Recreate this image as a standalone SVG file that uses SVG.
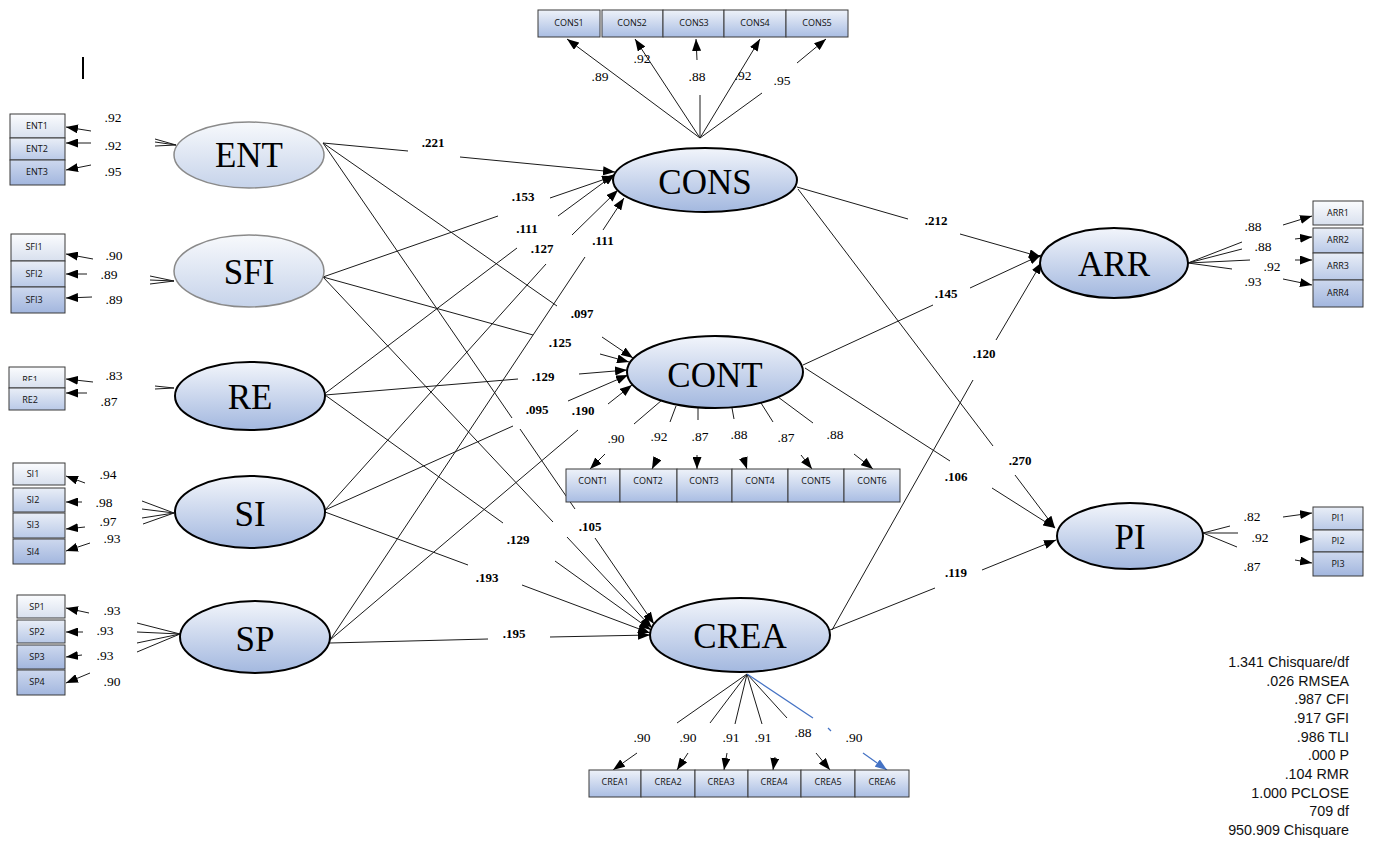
<svg xmlns="http://www.w3.org/2000/svg" width="1375" height="841" viewBox="0 0 1375 841">
<defs>
  <linearGradient id="gLat" x1="0" y1="0" x2="0" y2="1">
    <stop offset="0" stop-color="#f2f5fb"/><stop offset="1" stop-color="#a3b8df"/>
  </linearGradient>
  <linearGradient id="gLatLt" x1="0" y1="0" x2="0" y2="1">
    <stop offset="0" stop-color="#f7f9fc"/><stop offset="1" stop-color="#c6d3ea"/>
  </linearGradient>
  <linearGradient id="gBoxLt" x1="0" y1="0" x2="0" y2="1">
    <stop offset="0" stop-color="#fbfcfe"/><stop offset="1" stop-color="#d8e0ee"/>
  </linearGradient>
  <linearGradient id="gBoxMd" x1="0" y1="0" x2="0" y2="1">
    <stop offset="0" stop-color="#e9eef7"/><stop offset="1" stop-color="#b9c9e7"/>
  </linearGradient>
  <linearGradient id="gBoxDk" x1="0" y1="0" x2="0" y2="1">
    <stop offset="0" stop-color="#cdd8ee"/><stop offset="1" stop-color="#a2b6de"/>
  </linearGradient>
  <linearGradient id="gBox" x1="0" y1="0" x2="0" y2="1">
    <stop offset="0" stop-color="#eef2f9"/><stop offset="1" stop-color="#a9bde3"/>
  </linearGradient>
  <marker id="ah" viewBox="0 0 12 9" refX="12" refY="4.5" markerWidth="12" markerHeight="9" markerUnits="userSpaceOnUse" orient="auto">
    <path d="M0,0 L12,4.5 L0,9 z" fill="#000"/>
  </marker>
  <marker id="ahBlue" viewBox="0 0 12 9" refX="12" refY="4.5" markerWidth="12" markerHeight="9" markerUnits="userSpaceOnUse" orient="auto">
    <path d="M0,0 L12,4.5 L0,9 z" fill="#4472c4"/>
  </marker>
  <clipPath id="clipRE1"><rect x="9" y="367" width="56" height="14"/></clipPath>
  <style>
    .ln{stroke:#1a1a1a;stroke-width:1;fill:none}
    .ar{marker-end:url(#ah)}
    .blue{stroke:#4472c4;stroke-width:1.2;fill:none}
    .lat{fill:url(#gLat);stroke:#000;stroke-width:2}
    .latLt{fill:url(#gLatLt);stroke:#8a8a8a;stroke-width:1.5}
    .lv{font-family:"Liberation Serif",serif;font-size:35px;text-anchor:middle;fill:#000}
    .bx{stroke:#3a3a3a;stroke-width:1}
    .bt{font-family:"Open Sans","Liberation Sans",sans-serif;font-size:9px;text-anchor:middle;fill:#111}
    .pl{font-family:"Liberation Serif",serif;font-size:13px;font-weight:bold;text-anchor:middle;fill:#000}
    .ld{font-family:"Liberation Serif",serif;font-size:13.5px;text-anchor:middle;fill:#000}
    .fit{font-family:"Liberation Sans",sans-serif;font-size:14.3px;text-anchor:end;fill:#111}
  </style>
</defs>
<rect width="1375" height="841" fill="#fff"/>

<!-- stray cursor mark -->
<line x1="83" y1="57" x2="83" y2="79" stroke="#000" stroke-width="2"/>

<g id="connectors">
  <!-- structural paths into CONS -->
  <line class="ln" x1="323" y1="143" x2="408" y2="151"/>
  <line class="ln ar" x1="460" y1="157" x2="615" y2="172"/>
  <line class="ln" x1="323" y1="277" x2="498" y2="216"/>
  <line class="ln ar" x1="550" y1="198" x2="614" y2="176"/>
  <line class="ln" x1="323" y1="395" x2="517" y2="248"/>
  <line class="ln ar" x1="558" y1="216" x2="615" y2="174"/>
  <line class="ln" x1="325" y1="510" x2="546" y2="264"/>
  <line class="ln ar" x1="572" y1="235" x2="618" y2="190"/>
  <line class="ln" x1="330" y1="640" x2="585" y2="257"/>
  <line class="ln ar" x1="603" y1="230" x2="624" y2="198"/>
  <!-- structural paths into CONT -->
  <line class="ln" x1="323" y1="143" x2="557" y2="306"/>
  <line class="ln ar" x1="602" y1="337" x2="633" y2="358"/>
  <line class="ln" x1="323" y1="277" x2="533" y2="335"/>
  <line class="ln ar" x1="600" y1="354" x2="629" y2="362"/>
  <line class="ln" x1="325" y1="395" x2="518" y2="379"/>
  <line class="ln ar" x1="579" y1="374" x2="627" y2="370"/>
  <line class="ln" x1="325" y1="510" x2="513" y2="426"/>
  <line class="ln ar" x1="568" y1="401" x2="628" y2="375"/>
  <line class="ln" x1="330" y1="640" x2="578" y2="430"/>
  <line class="ln ar" x1="608" y1="404" x2="632" y2="385"/>
  <!-- structural paths into CREA -->
  <line class="ln" x1="323" y1="143" x2="512" y2="418"/>
  <line class="ln" x1="520" y1="429" x2="575" y2="509"/>
  <line class="ln ar" x1="595" y1="538" x2="654" y2="624"/>
  <line class="ln" x1="323" y1="277" x2="553" y2="522"/>
  <line class="ln ar" x1="567" y1="537" x2="652" y2="628"/>
  <line class="ln" x1="325" y1="395" x2="503" y2="523"/>
  <line class="ln ar" x1="555" y1="561" x2="651" y2="630"/>
  <line class="ln" x1="325" y1="512" x2="468" y2="565"/>
  <line class="ln ar" x1="522" y1="585" x2="650" y2="633"/>
  <line class="ln" x1="330" y1="643" x2="488" y2="639"/>
  <line class="ln ar" x1="550" y1="637" x2="650" y2="635"/>
  <!-- outcome paths -->
  <line class="ln" x1="797" y1="187" x2="908" y2="219"/>
  <line class="ln ar" x1="960" y1="234" x2="1041" y2="257"/>
  <line class="ln" x1="803" y1="365" x2="933" y2="305"/>
  <line class="ln ar" x1="970" y1="288" x2="1041" y2="255"/>
  <line class="ln" x1="832" y1="630" x2="973" y2="380"/>
  <line class="ln ar" x1="996" y1="340" x2="1042" y2="262"/>
  <line class="ln" x1="798" y1="189" x2="993" y2="446"/>
  <line class="ln ar" x1="1015" y1="475" x2="1055" y2="528"/>
  <line class="ln" x1="805" y1="368" x2="950" y2="461"/>
  <line class="ln ar" x1="992" y1="488" x2="1055" y2="528"/>
  <line class="ln" x1="830" y1="630" x2="935" y2="588"/>
  <line class="ln ar" x1="982" y1="570" x2="1056" y2="540"/>

  <!-- left indicator stubs at the latent edges -->
  <path class="ln" d="M176,145 L155,139 M176,145 L155,142 M176,145 L155,146"/>
  <path class="ln" d="M174,281 L150,276 M174,281 L150,280 M174,281 L150,284"/>
  <path class="ln" d="M174,388 L155,386 M174,388 L155,389"/>
  <path class="ln" d="M174,513 L142,501 M174,513 L142,509 M174,513 L142,518 M174,513 L143,524"/>
  <path class="ln" d="M180,634 L137,623 M180,634 L137,632 M180,634 L137,643 M180,634 L137,652"/>
  <!-- left indicator arrows -->
  <line class="ln ar" x1="91" y1="131" x2="66" y2="127"/>
  <line class="ln ar" x1="91" y1="143" x2="66" y2="143"/>
  <line class="ln ar" x1="91" y1="165" x2="66" y2="170"/>
  <line class="ln ar" x1="93" y1="259" x2="66" y2="254"/>
  <line class="ln ar" x1="87" y1="274" x2="66" y2="274"/>
  <line class="ln ar" x1="92" y1="297" x2="66" y2="298"/>
  <line class="ln ar" x1="93" y1="382" x2="66" y2="379"/>
  <line class="ln ar" x1="87" y1="393" x2="66" y2="393"/>
  <line class="ln ar" x1="85" y1="483" x2="66" y2="476"/>
  <line class="ln ar" x1="82" y1="502" x2="66" y2="502"/>
  <line class="ln ar" x1="85" y1="527" x2="66" y2="529"/>
  <line class="ln ar" x1="90" y1="543" x2="66" y2="551"/>
  <line class="ln ar" x1="89" y1="613" x2="66" y2="608"/>
  <line class="ln ar" x1="83" y1="632" x2="66" y2="632"/>
  <line class="ln ar" x1="82" y1="655" x2="66" y2="657"/>
  <line class="ln ar" x1="90" y1="673" x2="66" y2="683"/>

  <!-- CONS indicators -->
  <line class="ln ar" x1="700" y1="138" x2="567" y2="39"/>
  <line class="ln ar" x1="700" y1="138" x2="635" y2="39"/>
  <line class="ln" x1="700" y1="138" x2="700" y2="95"/>
  <line class="ln ar" x1="697" y1="60" x2="696" y2="39"/>
  <line class="ln ar" x1="700" y1="138" x2="760" y2="39"/>
  <line class="ln" x1="700" y1="138" x2="762" y2="93"/>
  <line class="ln ar" x1="797" y1="63" x2="826" y2="39"/>

  <!-- CONT indicators -->
  <line class="ln" x1="662" y1="400" x2="634" y2="424"/>
  <line class="ln ar" x1="605" y1="454" x2="590" y2="469"/>
  <line class="ln" x1="676" y1="406" x2="670" y2="422"/>
  <line class="ln ar" x1="657" y1="459" x2="652" y2="469"/>
  <line class="ln" x1="698" y1="408" x2="698" y2="420"/>
  <line class="ln ar" x1="697" y1="455" x2="697" y2="469"/>
  <line class="ln" x1="732" y1="408" x2="734" y2="419"/>
  <line class="ln ar" x1="743" y1="457" x2="747" y2="469"/>
  <line class="ln" x1="761" y1="403" x2="773" y2="422"/>
  <line class="ln ar" x1="801" y1="455" x2="812" y2="469"/>
  <line class="ln" x1="778" y1="397" x2="813" y2="423"/>
  <line class="ln ar" x1="854" y1="454" x2="873" y2="469"/>

  <!-- CREA indicators -->
  <line class="ln" x1="747" y1="674" x2="677" y2="723"/>
  <line class="ln ar" x1="637" y1="753" x2="613" y2="770"/>
  <line class="ln" x1="747" y1="674" x2="710" y2="723"/>
  <line class="ln ar" x1="688" y1="753" x2="677" y2="770"/>
  <line class="ln" x1="747" y1="674" x2="735" y2="724"/>
  <line class="ln ar" x1="727" y1="753" x2="724" y2="770"/>
  <line class="ln" x1="747" y1="674" x2="762" y2="724"/>
  <line class="ln ar" x1="775" y1="757" x2="773" y2="770"/>
  <line class="ln" x1="747" y1="674" x2="787" y2="718"/>
  <line class="ln ar" x1="816" y1="753" x2="830" y2="770"/>
  <line class="blue" x1="747" y1="674" x2="813" y2="718"/>
  <line class="blue" x1="828" y1="728" x2="831" y2="731"/>
  <line class="blue" x1="863" y1="753" x2="887" y2="770" marker-end="url(#ahBlue)"/>

  <!-- ARR indicators -->
  <path class="ln" d="M1188,263 L1242,242 M1188,263 L1242,249 M1188,263 L1250,260 M1188,263 L1232,269"/>
  <line class="ln ar" x1="1283" y1="225" x2="1312" y2="216"/>
  <line class="ln ar" x1="1295" y1="239" x2="1312" y2="237"/>
  <line class="ln ar" x1="1295" y1="260" x2="1312" y2="260"/>
  <line class="ln ar" x1="1283" y1="279" x2="1312" y2="285"/>

  <!-- PI indicators -->
  <path class="ln" d="M1203,533 L1230,526 M1203,533 L1238,533 M1203,533 L1237,547"/>
  <line class="ln ar" x1="1283" y1="517" x2="1312" y2="513"/>
  <line class="ln ar" x1="1300" y1="539" x2="1312" y2="539"/>
  <line class="ln ar" x1="1295" y1="560" x2="1312" y2="563"/>
</g>

<!-- exogenous latents -->
<g id="ENT"><ellipse class="latLt" cx="249" cy="155" rx="75" ry="33"/><text class="lv" x="249" y="167">ENT</text></g>
<g id="SFI"><ellipse class="latLt" cx="249" cy="271" rx="75" ry="36"/><text class="lv" x="249" y="284">SFI</text></g>
<g id="RE"><ellipse class="lat" cx="250" cy="396" rx="75" ry="34"/><text class="lv" x="250" y="409">RE</text></g>
<g id="SI"><ellipse class="lat" cx="250" cy="512" rx="75" ry="36"/><text class="lv" x="250" y="526">SI</text></g>
<g id="SP"><ellipse class="lat" cx="255" cy="637" rx="75" ry="36"/><text class="lv" x="255" y="651">SP</text></g>

<!-- mediators and outcomes -->
<g id="CONS"><ellipse class="lat" cx="705" cy="180" rx="92" ry="32"/><text class="lv" x="705" y="194">CONS</text></g>
<g id="CONT"><ellipse class="lat" cx="715" cy="372" rx="88" ry="36"/><text class="lv" x="715" y="387">CONT</text></g>
<g id="CREA"><ellipse class="lat" cx="740" cy="635" rx="90" ry="37"/><text class="lv" x="740" y="648">CREA</text></g>
<g id="ARR"><ellipse class="lat" cx="1114" cy="263" rx="74" ry="35"/><text class="lv" x="1114" y="276">ARR</text></g>
<g id="PI"><ellipse class="lat" cx="1130" cy="536" rx="73" ry="33"/><text class="lv" x="1130" y="549">PI</text></g>

<!-- indicator boxes -->
<g id="ENT-items">
  <rect class="bx" x="10" y="114" width="55" height="24" fill="url(#gBoxLt)"/><text class="bt" x="37" y="129">ENT1</text>
  <rect class="bx" x="10" y="138" width="55" height="22" fill="url(#gBoxMd)"/><text class="bt" x="37" y="152">ENT2</text>
  <rect class="bx" x="10" y="160" width="55" height="25" fill="url(#gBoxDk)"/><text class="bt" x="37" y="175">ENT3</text>
</g>
<g id="SFI-items">
  <rect class="bx" x="11" y="234" width="54" height="27" fill="url(#gBoxLt)"/><text class="bt" x="34" y="250">SFI1</text>
  <rect class="bx" x="11" y="261" width="54" height="26" fill="url(#gBoxMd)"/><text class="bt" x="34" y="277">SFI2</text>
  <rect class="bx" x="11" y="287" width="54" height="26" fill="url(#gBoxDk)"/><text class="bt" x="34" y="303">SFI3</text>
</g>
<g id="RE-items">
  <rect class="bx" x="9" y="367" width="56" height="21" fill="url(#gBoxLt)"/><text class="bt" x="30" y="383" clip-path="url(#clipRE1)">RE1</text>
  <rect class="bx" x="9" y="388" width="56" height="22" fill="url(#gBoxMd)"/><text class="bt" x="30" y="403">RE2</text>
</g>
<g id="SI-items">
  <rect class="bx" x="13" y="463" width="52" height="22" fill="url(#gBoxLt)"/><text class="bt" x="33" y="477">SI1</text>
  <rect class="bx" x="13" y="488" width="52" height="24" fill="url(#gBoxMd)"/><text class="bt" x="33" y="503">SI2</text>
  <rect class="bx" x="13" y="513" width="52" height="25" fill="url(#gBoxMd)"/><text class="bt" x="33" y="528">SI3</text>
  <rect class="bx" x="13" y="539" width="52" height="25" fill="url(#gBoxDk)"/><text class="bt" x="33" y="555">SI4</text>
</g>
<g id="SP-items">
  <rect class="bx" x="17" y="595" width="48" height="23" fill="url(#gBoxLt)"/><text class="bt" x="37" y="610">SP1</text>
  <rect class="bx" x="17" y="620" width="48" height="23" fill="url(#gBoxMd)"/><text class="bt" x="37" y="635">SP2</text>
  <rect class="bx" x="17" y="645" width="48" height="24" fill="url(#gBoxDk)"/><text class="bt" x="37" y="660">SP3</text>
  <rect class="bx" x="17" y="670" width="48" height="25" fill="url(#gBoxDk)"/><text class="bt" x="37" y="685">SP4</text>
</g>
<g id="CONS-items">
  <rect class="bx" x="538" y="10" width="62" height="27" fill="url(#gBox)"/><text class="bt" x="569" y="26">CONS1</text>
  <rect class="bx" x="602" y="10" width="61" height="27" fill="url(#gBox)"/><text class="bt" x="632" y="26">CONS2</text>
  <rect class="bx" x="663" y="10" width="61" height="27" fill="url(#gBox)"/><text class="bt" x="694" y="26">CONS3</text>
  <rect class="bx" x="724" y="10" width="62" height="27" fill="url(#gBox)"/><text class="bt" x="755" y="26">CONS4</text>
  <rect class="bx" x="786" y="10" width="62" height="27" fill="url(#gBox)"/><text class="bt" x="817" y="26">CONS5</text>
</g>
<g id="CONT-items">
  <rect class="bx" x="566" y="469" width="54" height="33" fill="url(#gBox)"/><text class="bt" x="593" y="484">CONT1</text>
  <rect class="bx" x="620" y="469" width="57" height="33" fill="url(#gBox)"/><text class="bt" x="648" y="484">CONT2</text>
  <rect class="bx" x="677" y="469" width="55" height="33" fill="url(#gBox)"/><text class="bt" x="704" y="484">CONT3</text>
  <rect class="bx" x="732" y="469" width="56" height="33" fill="url(#gBox)"/><text class="bt" x="760" y="484">CONT4</text>
  <rect class="bx" x="788" y="469" width="56" height="33" fill="url(#gBox)"/><text class="bt" x="816" y="484">CONT5</text>
  <rect class="bx" x="844" y="469" width="56" height="33" fill="url(#gBox)"/><text class="bt" x="872" y="484">CONT6</text>
</g>
<g id="CREA-items">
  <rect class="bx" x="589" y="770" width="52" height="27" fill="url(#gBox)"/><text class="bt" x="615" y="785">CREA1</text>
  <rect class="bx" x="641" y="770" width="54" height="27" fill="url(#gBox)"/><text class="bt" x="668" y="785">CREA2</text>
  <rect class="bx" x="695" y="770" width="53" height="27" fill="url(#gBox)"/><text class="bt" x="721" y="785">CREA3</text>
  <rect class="bx" x="748" y="770" width="53" height="27" fill="url(#gBox)"/><text class="bt" x="774" y="785">CREA4</text>
  <rect class="bx" x="801" y="770" width="54" height="27" fill="url(#gBox)"/><text class="bt" x="828" y="785">CREA5</text>
  <rect class="bx" x="855" y="770" width="54" height="27" fill="url(#gBox)"/><text class="bt" x="882" y="785">CREA6</text>
</g>
<g id="ARR-items">
  <rect class="bx" x="1313" y="201" width="50" height="24" fill="url(#gBoxLt)"/><text class="bt" x="1338" y="216">ARR1</text>
  <rect class="bx" x="1313" y="228" width="50" height="25" fill="url(#gBoxMd)"/><text class="bt" x="1338" y="243">ARR2</text>
  <rect class="bx" x="1313" y="253" width="50" height="27" fill="url(#gBoxMd)"/><text class="bt" x="1338" y="269">ARR3</text>
  <rect class="bx" x="1313" y="280" width="50" height="27" fill="url(#gBoxDk)"/><text class="bt" x="1338" y="296">ARR4</text>
</g>
<g id="PI-items">
  <rect class="bx" x="1313" y="507" width="50" height="23" fill="url(#gBoxMd)"/><text class="bt" x="1338" y="521">PI1</text>
  <rect class="bx" x="1313" y="530" width="50" height="22" fill="url(#gBoxMd)"/><text class="bt" x="1338" y="544">PI2</text>
  <rect class="bx" x="1313" y="552" width="50" height="24" fill="url(#gBoxDk)"/><text class="bt" x="1338" y="567">PI3</text>
</g>

<!-- structural coefficients -->
<g id="path-labels">
  <text class="pl" x="433" y="147">.221</text>
  <text class="pl" x="523" y="201">.153</text>
  <text class="pl" x="527" y="233">.111</text>
  <text class="pl" x="542" y="253">.127</text>
  <text class="pl" x="603" y="245">.111</text>
  <text class="pl" x="582" y="318">.097</text>
  <text class="pl" x="560" y="347">.125</text>
  <text class="pl" x="543" y="381">.129</text>
  <text class="pl" x="537" y="414">.095</text>
  <text class="pl" x="583" y="415">.190</text>
  <text class="pl" x="590" y="531">.105</text>
  <text class="pl" x="518" y="544">.129</text>
  <text class="pl" x="487" y="582">.193</text>
  <text class="pl" x="514" y="638">.195</text>
  <text class="pl" x="936" y="225">.212</text>
  <text class="pl" x="946" y="298">.145</text>
  <text class="pl" x="984" y="358">.120</text>
  <text class="pl" x="1020" y="465">.270</text>
  <text class="pl" x="956" y="481">.106</text>
  <text class="pl" x="956" y="577">.119</text>
</g>

<!-- factor loadings -->
<g id="loadings">
  <text class="ld" x="113" y="122">.92</text>
  <text class="ld" x="113" y="150">.92</text>
  <text class="ld" x="113" y="176">.95</text>
  <text class="ld" x="114" y="260">.90</text>
  <text class="ld" x="109" y="279">.89</text>
  <text class="ld" x="114" y="304">.89</text>
  <text class="ld" x="114" y="380">.83</text>
  <text class="ld" x="109" y="406">.87</text>
  <text class="ld" x="108" y="479">.94</text>
  <text class="ld" x="104" y="507">.98</text>
  <text class="ld" x="108" y="526">.97</text>
  <text class="ld" x="112" y="543">.93</text>
  <text class="ld" x="112" y="615">.93</text>
  <text class="ld" x="105" y="635">.93</text>
  <text class="ld" x="105" y="660">.93</text>
  <text class="ld" x="112" y="686">.90</text>
  <text class="ld" x="600" y="81">.89</text>
  <text class="ld" x="642" y="63">.92</text>
  <text class="ld" x="697" y="81">.88</text>
  <text class="ld" x="743" y="80">.92</text>
  <text class="ld" x="782" y="85">.95</text>
  <text class="ld" x="616" y="443">.90</text>
  <text class="ld" x="659" y="441">.92</text>
  <text class="ld" x="700" y="441">.87</text>
  <text class="ld" x="739" y="439">.88</text>
  <text class="ld" x="786" y="442">.87</text>
  <text class="ld" x="835" y="439">.88</text>
  <text class="ld" x="642" y="742">.90</text>
  <text class="ld" x="688" y="742">.90</text>
  <text class="ld" x="731" y="742">.91</text>
  <text class="ld" x="763" y="742">.91</text>
  <text class="ld" x="803" y="737">.88</text>
  <text class="ld" x="854" y="742">.90</text>
  <text class="ld" x="1253" y="231">.88</text>
  <text class="ld" x="1263" y="251">.88</text>
  <text class="ld" x="1272" y="271">.92</text>
  <text class="ld" x="1253" y="286">.93</text>
  <text class="ld" x="1252" y="521">.82</text>
  <text class="ld" x="1260" y="542">.92</text>
  <text class="ld" x="1252" y="571">.87</text>
</g>

<!-- model fit summary -->
<g id="fit">
  <text class="fit" x="1349" y="667">1.341 Chisquare/df</text>
  <text class="fit" x="1349" y="686">.026 RMSEA</text>
  <text class="fit" x="1349" y="704">.987 CFI</text>
  <text class="fit" x="1349" y="723">.917 GFI</text>
  <text class="fit" x="1349" y="742">.986 TLI</text>
  <text class="fit" x="1349" y="760">.000 P</text>
  <text class="fit" x="1349" y="779">.104 RMR</text>
  <text class="fit" x="1349" y="798">1.000 PCLOSE</text>
  <text class="fit" x="1349" y="816">709 df</text>
  <text class="fit" x="1349" y="835">950.909 Chisquare</text>
</g>
</svg>
